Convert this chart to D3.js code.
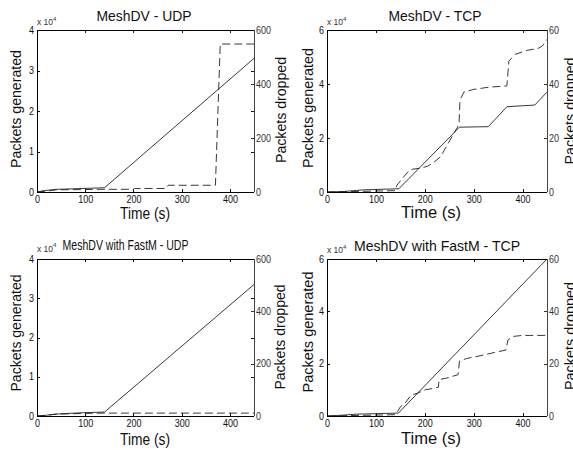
<!DOCTYPE html>
<html><head><meta charset="utf-8">
<script src="https://cdn.jsdelivr.net/npm/d3@7"></script>
<style>
body{margin:0;background:#fff}
svg{display:block}
text{font-family:"Liberation Sans",Arial,Helvetica,sans-serif}
</style>
</head><body>
<svg id="c" width="573" height="450"></svg>
<script>
// ---------- data ----------
const timeTicks = [0, 100, 200, 300, 400];
const udpGenTicks = [0, 10000, 20000, 30000, 40000];
const udpDropTicks = [0, 200, 400, 600];
const tcpGenTicks = [0, 20000, 40000, 60000];
const tcpDropTicks = [0, 20, 40, 60];
const panelTitles = ["MeshDV - UDP", "MeshDV - TCP", "MeshDV with FastM - UDP", "MeshDV with FastM - TCP"];
const xLabel = "Time (s)";
const yLeftLabel = "Packets generated";
const yRightLabel = "Packets dropped";
const expBase = "x 10", expPower = "4";

// [time (s), value]
const meshUdpGenerated = [[0,0],[15,350],[40,650],[140,1050],[450,33000]];
const meshUdpDropped = [[0,0],[20,3],[40,8],[140,10],[200,10],[202,13],[268,13],[272,25],[370,25],[380,548],[450,548]];
const meshTcpGenerated = [[0,0],[35,200],[75,800],[147,1200],[271,24000],[330,24200],[368,31600],[425,32200],[450,37000]];
const meshTcpDropped = [[0,0],[140,0.5],[143,2.5],[160,6.3],[170,8.3],[190,8.8],[205,9.5],[215,10.5],[232,13],[248,18],[260,22],[267,24],[270,25],[272,34],[280,37],[300,38],[330,38.8],[368,39.3],[372,48.5],[385,51],[410,52.5],[432,53.2],[440,54],[450,56.5]];
const fastUdpGenerated = [[0,0],[20,200],[40,500],[96,840],[140,1000],[450,33500]];
const fastUdpDropped = [[0,0],[20,3],[40,7],[100,10],[140,11],[450,11]];
const fastTcpGenerated = [[0,0],[30,300],[60,700],[100,900],[146,1100],[450,60000]];
const fastTcpDropped = [[0,0],[140,0.5],[144,1.6],[150,3.5],[160,5],[172,8],[185,8.7],[201,10],[218,10.6],[228,11],[229,13.9],[245,14.5],[268,15.8],[271,21],[286,22],[313,23],[343,24.3],[366,25.2],[370,29],[380,30.4],[400,30.8],[450,30.8]];

const series = [
  {gen: meshUdpGenerated, drop: meshUdpDropped, genTicks: udpGenTicks, dropTicks: udpDropTicks},
  {gen: meshTcpGenerated, drop: meshTcpDropped, genTicks: tcpGenTicks, dropTicks: tcpDropTicks},
  {gen: fastUdpGenerated, drop: fastUdpDropped, genTicks: udpGenTicks, dropTicks: udpDropTicks},
  {gen: fastTcpGenerated, drop: fastTcpDropped, genTicks: tcpGenTicks, dropTicks: tcpDropTicks}
];

// ---------- layout ----------
const layout = [
  {x0:37, x1:254, y0:30, y1:192, title:{x:144, y:21, w:95}, xl:{x:145, y:219, w:50}, yl:{x:21, y:109, w:118}, yr:{x:286, y:110, w:106}, exp:{x:37, y:25}},
  {x0:327, x1:547, y0:30, y1:192, title:{x:435, y:21, w:93}, xl:{x:431, y:218, w:60}, yl:{x:313, y:108, w:120}, yr:{x:575, y:111, w:107}, exp:{x:327, y:25}},
  {x0:37, x1:254, y0:259, y1:416, title:{x:125.5, y:250, w:126}, xl:{x:145, y:445, w:50}, yl:{x:21, y:333, w:117}, yr:{x:285, y:337, w:105}, exp:{x:37, y:251.5}},
  {x0:327, x1:547, y0:259, y1:416, title:{x:437, y:251, w:166}, xl:{x:431, y:444, w:60}, yl:{x:313, y:332, w:121}, yr:{x:575, y:336, w:108}, exp:{x:327, y:253}}
];

const svg = d3.select("#c");
const TXT = "#111";

function styleTicks(sel, color) {
  sel.select(".domain").remove();
  sel.selectAll(".tick line").attr("stroke", color).attr("shape-rendering", "crispEdges");
  sel.selectAll(".tick text")
    .attr("font-size", 10)
    .attr("fill", color)
    .each(function() {
      const t = d3.select(this);
      const s = t.text();
      if (s.length) t.attr("textLength", s.length * 5).attr("lengthAdjust", "spacingAndGlyphs");
    });
}

layout.forEach((L, i) => {
  const S = series[i];
  const x = d3.scaleLinear().domain([0, 450]).range([L.x0, L.x1]);
  const yL = d3.scaleLinear().domain([0, d3.max(S.genTicks)]).range([L.y1, L.y0]);
  const yR = d3.scaleLinear().domain([0, d3.max(S.dropTicks)]).range([L.y1, L.y0]);
  const g = svg.append("g");

  // lines
  g.append("path").datum(S.gen)
    .attr("d", d3.line().x(d => x(d[0])).y(d => yL(d[1])))
    .attr("fill", "none").attr("stroke", "#222").attr("stroke-width", 0.9);
  g.append("path").datum(S.drop)
    .attr("d", d3.line().x(d => x(d[0])).y(d => yR(d[1])))
    .attr("fill", "none").attr("stroke", "#222").attr("stroke-width", 0.9)
    .attr("stroke-dasharray", "8,4");

  // axes
  const bottom = g.append("g").attr("transform", `translate(0,${L.y1})`)
    .call(d3.axisBottom(x).tickValues(timeTicks).tickSize(-3).tickPadding(4));
  styleTicks(bottom, TXT);
  const top = g.append("g").attr("transform", `translate(0,${L.y0})`)
    .call(d3.axisTop(x).tickValues(timeTicks).tickSize(-3).tickFormat(""));
  styleTicks(top, TXT);
  const left = g.append("g").attr("transform", `translate(${L.x0},0)`)
    .call(d3.axisLeft(yL).tickValues(S.genTicks).tickSize(-3).tickPadding(3).tickFormat(d => d / 1e4));
  styleTicks(left, TXT);
  const rightBox = g.append("g").attr("transform", `translate(${L.x1},0)`)
    .call(d3.axisRight(yL).tickValues(S.genTicks).tickSize(-3).tickFormat(""));
  styleTicks(rightBox, TXT);
  const right = g.append("g").attr("transform", `translate(${L.x1},0)`)
    .call(d3.axisRight(yR).tickValues(S.dropTicks).tickSize(-3).tickPadding(2));
  styleTicks(right, "#333");

  // box
  const box = g.append("g").attr("shape-rendering", "crispEdges");
  box.append("line").attr("x1", L.x0).attr("x2", L.x1).attr("y1", L.y0).attr("y2", L.y0).attr("stroke", "#000");
  box.append("line").attr("x1", L.x0).attr("x2", L.x1).attr("y1", L.y1).attr("y2", L.y1).attr("stroke", "#000");
  box.append("line").attr("x1", L.x0).attr("x2", L.x0).attr("y1", L.y0).attr("y2", L.y1).attr("stroke", "#000");
  box.append("line").attr("x1", L.x1).attr("x2", L.x1).attr("y1", L.y0).attr("y2", L.y1).attr("stroke", "#444");

  // title
  g.append("text").attr("x", L.title.x).attr("y", L.title.y)
    .attr("text-anchor", "middle").attr("font-size", 14).attr("fill", TXT)
    .attr("textLength", L.title.w).attr("lengthAdjust", "spacingAndGlyphs")
    .text(panelTitles[i]);

  // x label
  g.append("text").attr("x", L.xl.x).attr("y", L.xl.y)
    .attr("text-anchor", "middle").attr("font-size", 16).attr("fill", TXT)
    .attr("textLength", L.xl.w).attr("lengthAdjust", "spacingAndGlyphs")
    .text(xLabel);

  // y labels
  g.append("text").attr("transform", `translate(${L.yl.x},${L.yl.y}) rotate(-90)`)
    .attr("text-anchor", "middle").attr("font-size", 15).attr("fill", TXT)
    .attr("textLength", L.yl.w).attr("lengthAdjust", "spacingAndGlyphs")
    .text(yLeftLabel);
  g.append("text").attr("transform", `translate(${L.yr.x},${L.yr.y}) rotate(-90)`)
    .attr("text-anchor", "middle").attr("font-size", 15).attr("fill", TXT)
    .attr("textLength", L.yr.w).attr("lengthAdjust", "spacingAndGlyphs")
    .text(yRightLabel);

  // exponent
  const ex = g.append("text").attr("x", L.exp.x).attr("y", L.exp.y)
    .attr("font-size", 8.5).attr("fill", "#333");
  ex.append("tspan").text(expBase);
  ex.append("tspan").attr("dy", -4.5).attr("font-size", 6).text(expPower);
});
</script>
</body></html>
